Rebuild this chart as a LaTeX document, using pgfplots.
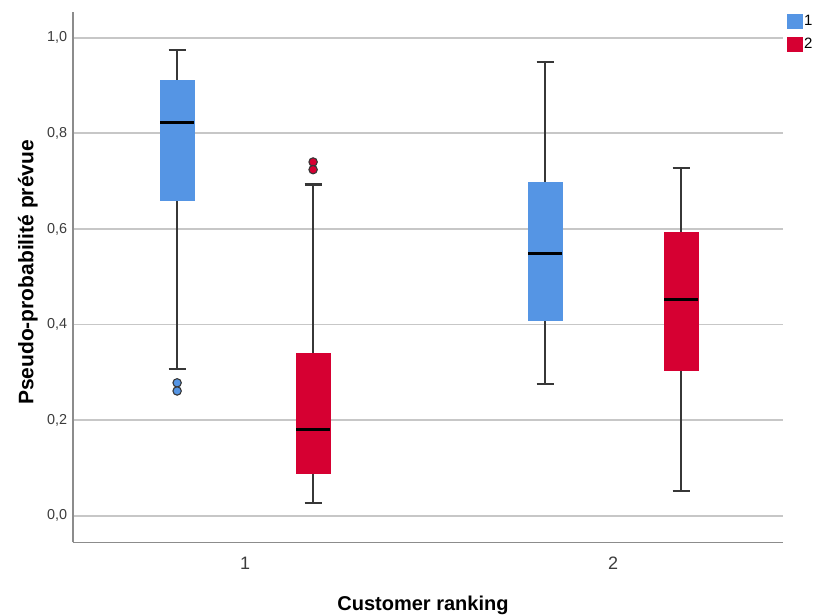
\documentclass[border=0pt]{standalone}
\usepackage{fontspec}
\setmainfont{Liberation Sans}
\usepackage{pgfplots}
\pgfplotsset{compat=1.18}
\usepgfplotslibrary{statistics}
\definecolor{sblue}{RGB}{85,149,228}
\definecolor{sred}{RGB}{214,0,50}
\definecolor{whisk}{RGB}{55,55,55}
\definecolor{tickc}{RGB}{60,60,60}
\begin{document}
\begin{tikzpicture}
\useasboundingbox (-73.3pt,-71.7pt) rectangle (739.7pt,542.3pt);
\begin{axis}[
  at={(0pt,0pt)}, anchor=south west,
  scale only axis, width=709.7pt, height=530.6pt,
  xmin=0.533, xmax=2.462, ymin=-0.0556, ymax=1.0544,
  axis x line*=bottom, axis y line*=left,
  axis line style={draw=black!45, line width=1.6pt, -},
  xtick={1,2}, ytick={0,0.2,0.4,0.6,0.8,1.0},
  major tick length=0pt,
  ymajorgrids, grid style={draw=black!22, line width=1.8pt},
  /pgf/number format/.cd, fixed, fixed zerofill, precision=1, use comma, assume math mode=true, /pgfplots/.cd,
  yticklabel style={font=\fontsize{14.4}{14.4}\selectfont, text=tickc, anchor=east, inner sep=0pt, xshift=-6pt},
  xticklabel style={font=\fontsize{18}{18}\selectfont, text=tickc, anchor=base, inner sep=0pt, yshift=-27.5pt},
  xticklabels={1,2},
  xlabel={Customer ranking},
  ylabel={Pseudo-probabilité prévue},
  xlabel style={font=\bfseries\fontsize{20}{20}\selectfont, at={(rel axis cs:0.4927,-0.1276)}, anchor=base, inner sep=0pt},
  ylabel style={font=\bfseries\fontsize{21}{21}\selectfont, at={(rel axis cs:-0.0561,0.5085)}, anchor=base, rotate=0, inner sep=0pt},
  legend style={draw=none, fill=none, at={(rel axis cs:1,1)}, anchor=north west, xshift=4pt, yshift=-1.5pt, inner sep=0pt, row sep=7pt, font=\fontsize{15}{15}\selectfont, nodes={inner sep=2pt}},
  legend cell align=left,
  boxplot/draw direction=y,
  boxplot/every whisker/.style={draw=whisk, line width=2.1pt},
  boxplot/every median/.style={draw=black, line width=3pt},
]
% Group 1, category 1
\addplot[boxplot prepared={draw position=0.8152, lower whisker=0.3075, lower quartile=0.659, median=0.822, upper quartile=0.910, upper whisker=0.975, box extend=0.0924, whisker extend=0.0462},
  boxplot/every box/.style={fill=sblue, draw=sblue, line width=0.5pt},
  mark=*, mark size=4.2pt, mark options={fill=sblue, draw=whisk, line width=1.1pt}, forget plot]
  coordinates {(0,0.278) (0,0.261)};
% Group 1, category 2
\addplot[boxplot prepared={draw position=1.1848, lower whisker=0.0265, lower quartile=0.0893, median=0.180, upper quartile=0.340, upper whisker=0.693, box extend=0.0924, whisker extend=0.0462},
  boxplot/every box/.style={fill=sred, draw=sred, line width=0.5pt},
  mark=*, mark size=4.2pt, mark options={fill=sred, draw=whisk, line width=1.1pt}, forget plot]
  coordinates {(0,0.740) (0,0.724)};
% Group 2, category 1
\addplot[boxplot prepared={draw position=1.8152, lower whisker=0.2747, lower quartile=0.4086, median=0.548, upper quartile=0.697, upper whisker=0.949, box extend=0.0924, whisker extend=0.0462},
  boxplot/every box/.style={fill=sblue, draw=sblue, line width=0.5pt}, forget plot]
  coordinates {};
% Group 2, category 2
\addplot[boxplot prepared={draw position=2.1848, lower whisker=0.0523, lower quartile=0.3033, median=0.452, upper quartile=0.5927, upper whisker=0.7266, box extend=0.0924, whisker extend=0.0462},
  boxplot/every box/.style={fill=sred, draw=sred, line width=0.5pt}, forget plot]
  coordinates {};
\addlegendimage{legend image code/.code={\fill[sblue] (0pt,-7.2pt) rectangle (14.4pt,7.2pt);}}
\addlegendentry{1}
\addlegendimage{legend image code/.code={\fill[sred] (0pt,-7.2pt) rectangle (14.4pt,7.2pt);}}
\addlegendentry{2}
\end{axis}
\end{tikzpicture}
\end{document}
